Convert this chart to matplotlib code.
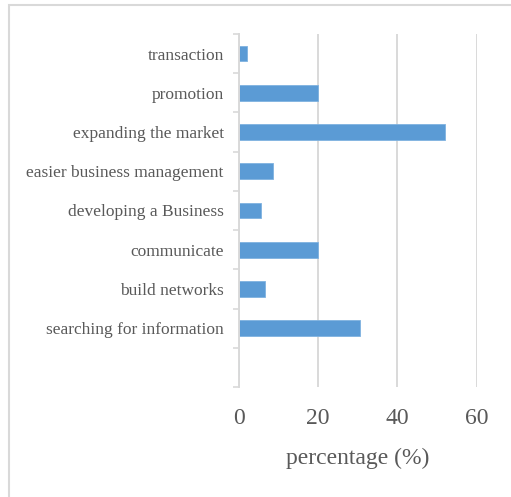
import matplotlib
matplotlib.use("Agg")
import matplotlib.pyplot as plt
from matplotlib.patches import Rectangle
import numpy as np

categories = ["transaction", "promotion", "expanding the market",
              "easier business management", "developing a Business",
              "communicate", "build networks", "searching for information", ""]
values = [2, 20, 52, 8.5, 5.6, 20, 6.5, 30.6, 0]
xticks = [0, 20, 40, 60]
xlabel = "percentage (%)"

W, H = 511, 497
fig = plt.figure(figsize=(W / 100, H / 100), dpi=100)
fig.patch.set_facecolor("white")

# outer frame
fig.patches.append(Rectangle((9 / W, -0.2), 1.5, 1.2 - 5 / H, transform=fig.transFigure,
                             fill=False, edgecolor="#D9D9D9", linewidth=1.5, zorder=0))

ax = fig.add_axes([239 / W, 1 - 387 / H, (476.7 - 239) / W, (387 - 34) / H])
n = len(categories)
pos = np.arange(n)[::-1]
ax.barh(pos, values, height=0.4, color="#5B9BD5", edgecolor="#7FB2E0", linewidth=0.6, zorder=3)

ax.set_xlim(0, 60)
ax.set_ylim(-0.5, n - 0.5)
ax.set_xticks(xticks)
ax.set_xticklabels([str(t) for t in xticks], fontfamily="Liberation Serif", fontsize=17, color="#595959")
ax.tick_params(axis="x", length=0, pad=15)
ax.set_yticks(pos)
ax.set_yticklabels(categories, fontfamily="Liberation Serif", fontsize=12.5, color="#595959")
ax.tick_params(axis="y", which="major", length=0, pad=11)
ax.set_yticks(np.arange(-0.5, n, 1.0), minor=True)
ax.tick_params(axis="y", which="minor", length=4, width=1.2, color="#D9D9D9", direction="out")

ax.grid(axis="x", color="#D9D9D9", linewidth=1.4, zorder=0)
for s in ["top", "right", "bottom"]:
    ax.spines[s].set_visible(False)
ax.spines["left"].set_color("#D9D9D9")
ax.spines["left"].set_linewidth(1.4)
ax.spines["left"].set_zorder(4)

ax.set_xlabel(xlabel, fontfamily="Liberation Serif", fontsize=17, color="#595959", labelpad=14)

fig.savefig("out.png", dpi=100)
